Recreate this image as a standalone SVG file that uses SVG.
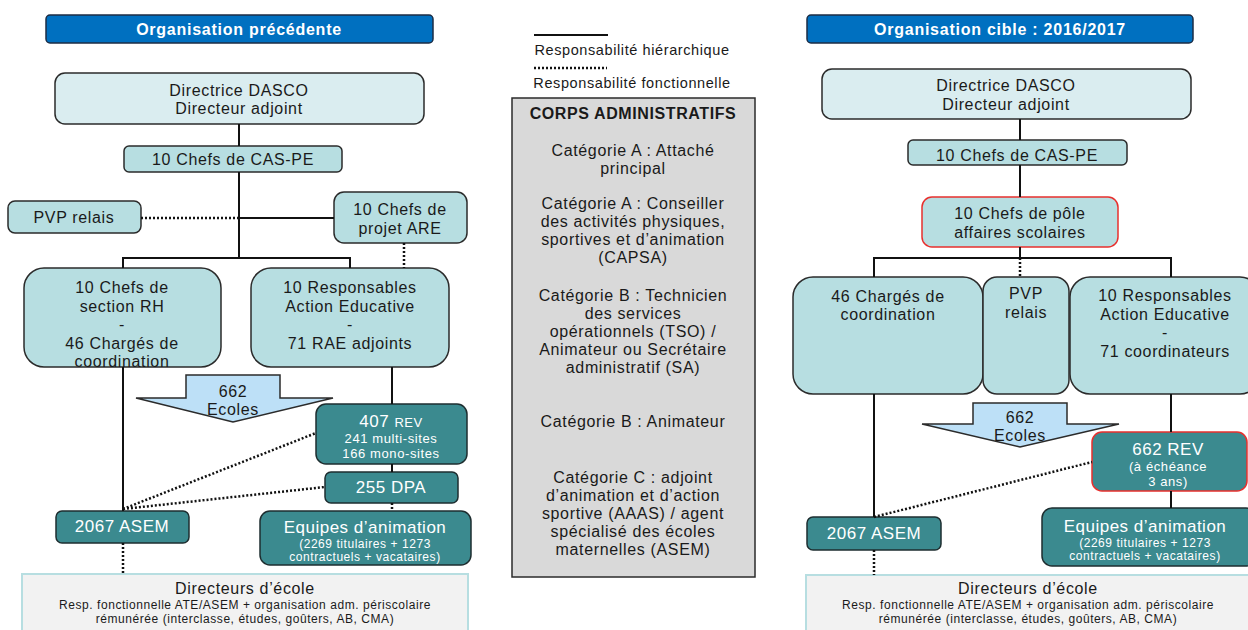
<svg xmlns="http://www.w3.org/2000/svg" width="1248" height="630" viewBox="0 0 1248 630">
<style>
text{font-family:"Liberation Sans",Arial,sans-serif;text-anchor:middle;fill:#1a1a1a}
.t{font-size:16px;letter-spacing:0.65px}
.L{font-size:17px;letter-spacing:0.5px}
.s{font-size:13px;letter-spacing:0.6px}
.xs{font-size:12px;letter-spacing:0.55px}
.lg{font-size:14.5px;letter-spacing:0.6px}
.w{fill:#fff}
.b{font-weight:bold}
.hd{font-size:16px;font-weight:bold;letter-spacing:0.75px;fill:#fff}
.title{fill:#0070c0;stroke:#1c2c44;stroke-width:1.5}
.pale{fill:#daedf0;stroke:#2b2b2b;stroke-width:1.5}
.mid{fill:#b7dee1;stroke:#2b2b2b;stroke-width:1.5}
.red{fill:#b7dee1;stroke:#e8302e;stroke-width:1.5}
.teal{fill:#3b8a8f;stroke:#1e2e30;stroke-width:1.5}
.tealr{fill:#3b8a8f;stroke:#e8302e;stroke-width:1.5}
.arrow{fill:#bde0f7;stroke:#2b2b2b;stroke-width:1.5}
.dir{fill:#f2f2f2;stroke:#b7dee1;stroke-width:2}
.solid{fill:none;stroke:#111;stroke-width:2}
.dot{fill:none;stroke:#111;stroke-width:2.5;stroke-dasharray:2 2}
</style>
<rect width="1248" height="630" fill="#fff"/>

<!-- LEFT -->
<g id="title-left"><rect class="title" x="46" y="15" width="387" height="28" rx="4"/><text class="hd" x="239" y="35">Organisation précédente</text></g>
<g id="dir-left"><rect class="pale" x="55" y="73" width="369" height="51" rx="10"/><text class="t" x="239" y="96">Directrice DASCO</text><text class="t" x="239" y="114">Directeur adjoint</text></g>
<g id="cas-left"><rect class="mid" x="124" y="146" width="218" height="26" rx="5"/><text class="t" x="233" y="165">10 Chefs de CAS-PE</text></g>
<g id="pvp-left"><rect class="mid" x="8" y="201" width="133" height="32" rx="7"/><text class="t" x="74" y="223">PVP relais</text></g>
<g id="are-left"><rect class="mid" x="334" y="192" width="133" height="51" rx="10"/><text class="t" x="400" y="215">10 Chefs de</text><text class="t" x="400" y="234">projet ARE</text></g>
<g id="rh-left"><rect class="mid" x="24" y="268" width="197" height="99" rx="20"/><text class="t" x="122" y="293">10 Chefs de</text><text class="t" x="122" y="312">section RH</text><text class="t" x="122" y="330">-</text><text class="t" x="122" y="349">46 Chargés de</text><text class="t" x="122" y="367">coordination</text></g>
<g id="rae-left"><rect class="mid" x="251" y="268" width="198" height="99" rx="20"/><text class="t" x="350" y="293">10 Responsables</text><text class="t" x="350" y="312">Action Educative</text><text class="t" x="350" y="330">-</text><text class="t" x="350" y="349">71 RAE adjoints</text></g>
<g id="ecoles-left"><path class="arrow" d="M186 375H280V398H333L233 422L136 398H186Z"/><text class="t" x="233" y="397">662</text><text class="t" x="233" y="415">Ecoles</text></g>
<g id="rev-left"><rect class="teal" x="316" y="404" width="151" height="60" rx="10"/><text class="w" x="391" y="427" letter-spacing="0.5"><tspan font-size="17">407 </tspan><tspan font-size="13">REV</tspan></text><text class="s w" x="391" y="443">241 multi-sites</text><text class="s w" x="391" y="458">166 mono-sites</text></g>
<g id="dpa-left"><rect class="teal" x="325" y="472" width="133" height="31" rx="6"/><text class="L w" x="391" y="493">255 DPA</text></g>
<g id="asem-left"><rect class="teal" x="56" y="511" width="133" height="32" rx="6"/><text class="L w" x="122" y="532">2067 ASEM</text></g>
<g id="equipes-left"><rect class="teal" x="260" y="511" width="211" height="54" rx="10"/><text class="L w" x="365" y="533">Equipes d’animation</text><text class="xs w" x="365" y="548">(2269 titulaires + 1273</text><text class="xs w" x="365" y="561">contractuels + vacataires)</text></g>
<g id="directeurs-left"><rect class="dir" x="22" y="574" width="446" height="62"/><text class="t" x="245" y="594">Directeurs d’école</text><text class="xs" x="245" y="609">Resp. fonctionnelle ATE/ASEM + organisation adm. périscolaire</text><text class="xs" x="245" y="623">rémunérée (interclasse, études, goûters, AB, CMA)</text></g>

<!-- CENTER -->
<g id="legend"><text class="lg" x="632" y="55">Responsabilité hiérarchique</text><text class="lg" x="632" y="88">Responsabilité fonctionnelle</text></g>
<g id="corps"><rect x="512" y="98" width="243" height="479" fill="#d9d9d9" stroke="#2b2b2b" stroke-width="1.5"/>
<text class="b" font-size="16" letter-spacing="0.6" x="633" y="119">CORPS ADMINISTRATIFS</text>
<text class="t" x="633" y="156">Catégorie A : Attaché</text><text class="t" x="633" y="174">principal</text>
<text class="t" x="633" y="209">Catégorie A : Conseiller</text><text class="t" x="633" y="227">des activités physiques,</text><text class="t" x="633" y="245">sportives et d’animation</text><text class="t" x="633" y="263">(CAPSA)</text>
<text class="t" x="633" y="301">Catégorie B : Technicien</text><text class="t" x="633" y="319">des services</text><text class="t" x="633" y="337">opérationnels (TSO) /</text><text class="t" x="633" y="355">Animateur ou Secrétaire</text><text class="t" x="633" y="373">administratif (SA)</text>
<text class="t" x="633" y="427">Catégorie B : Animateur</text>
<text class="t" x="633" y="483">Catégorie C : adjoint</text><text class="t" x="633" y="501">d’animation et d’action</text><text class="t" x="633" y="519">sportive (AAAS) / agent</text><text class="t" x="633" y="537">spécialisé des écoles</text><text class="t" x="633" y="555">maternelles (ASEM)</text>
</g>

<!-- RIGHT -->
<g id="title-right"><rect class="title" x="807" y="15" width="386" height="28" rx="4"/><text class="hd" x="1000" y="35">Organisation cible : 2016/2017</text></g>
<g id="dir-right"><rect class="pale" x="822" y="69" width="369" height="50" rx="10"/><text class="t" x="1006" y="91">Directrice DASCO</text><text class="t" x="1006" y="110">Directeur adjoint</text></g>
<g id="cas-right"><rect class="mid" x="908" y="140" width="219" height="25" rx="5"/><text class="t" x="1017" y="161">10 Chefs de CAS-PE</text></g>
<g id="pole-right"><rect class="red" x="922" y="197" width="196" height="50" rx="10"/><text class="t" x="1020" y="219">10 Chefs de pôle</text><text class="t" x="1020" y="238">affaires scolaires</text></g>
<g id="charges-right"><rect class="mid" x="793" y="277" width="190" height="117" rx="20"/><text class="t" x="888" y="302">46 Chargés de</text><text class="t" x="888" y="320">coordination</text></g>
<g id="pvp-right"><rect class="mid" x="983" y="277" width="86" height="117" rx="14"/><text class="t" x="1026" y="299">PVP</text><text class="t" x="1026" y="318">relais</text></g>
<g id="rae-right"><rect class="mid" x="1070" y="277" width="190" height="117" rx="20"/><text class="t" x="1165" y="301">10 Responsables</text><text class="t" x="1165" y="320">Action Educative</text><text class="t" x="1165" y="338">-</text><text class="t" x="1165" y="357">71 coordinateurs</text></g>
<g id="ecoles-right"><path class="arrow" d="M973 403H1067V424H1119L1020 447L922 424H973Z"/><text class="t" x="1020" y="423">662</text><text class="t" x="1020" y="441">Ecoles</text></g>
<g id="rev-right"><rect class="tealr" x="1092" y="432" width="155" height="59" rx="10"/><text class="L w" x="1168" y="455">662 REV</text><text class="s w" x="1168" y="471">(à échéance</text><text class="s w" x="1168" y="486">3 ans)</text></g>
<g id="asem-right"><rect class="teal" x="807" y="517" width="134" height="33" rx="6"/><text class="L w" x="874" y="539">2067 ASEM</text></g>
<g id="equipes-right"><rect class="teal" x="1042" y="508" width="214" height="58" rx="10"/><text class="L w" x="1145" y="532">Equipes d’animation</text><text class="xs w" x="1145" y="547">(2269 titulaires + 1273</text><text class="xs w" x="1145" y="560">contractuels + vacataires)</text></g>
<g id="directeurs-right"><rect class="dir" x="806" y="575" width="450" height="62"/><text class="t" x="1028" y="594">Directeurs d’école</text><text class="xs" x="1028" y="609">Resp. fonctionnelle ATE/ASEM + organisation adm. périscolaire</text><text class="xs" x="1028" y="623">rémunérée (interclasse, études, goûters, AB, CMA)</text></g>

<g id="connectors">
<path class="solid" d="M534 35H608"/>
<path class="dot" d="M534 68H607"/>
<path class="solid" d="M239 124V146M239 172V258M123 268V258H350V268M239 218H334M123 367V511M392 367V404M392 464V472"/>
<path class="dot" d="M141 218H239M404 243V268M392 503V511M123 509L316 433M123 509L325 487M123 543V574"/>
<path class="solid" d="M1020 119V140M1020 165V197M1020 247V258M874 277V258H1171V277M874 394V517M1171 394V432M1171 491V508"/>
<path class="dot" d="M1020 258V277M874 517L1092 462M874 550V575"/>
</g>
</svg>
